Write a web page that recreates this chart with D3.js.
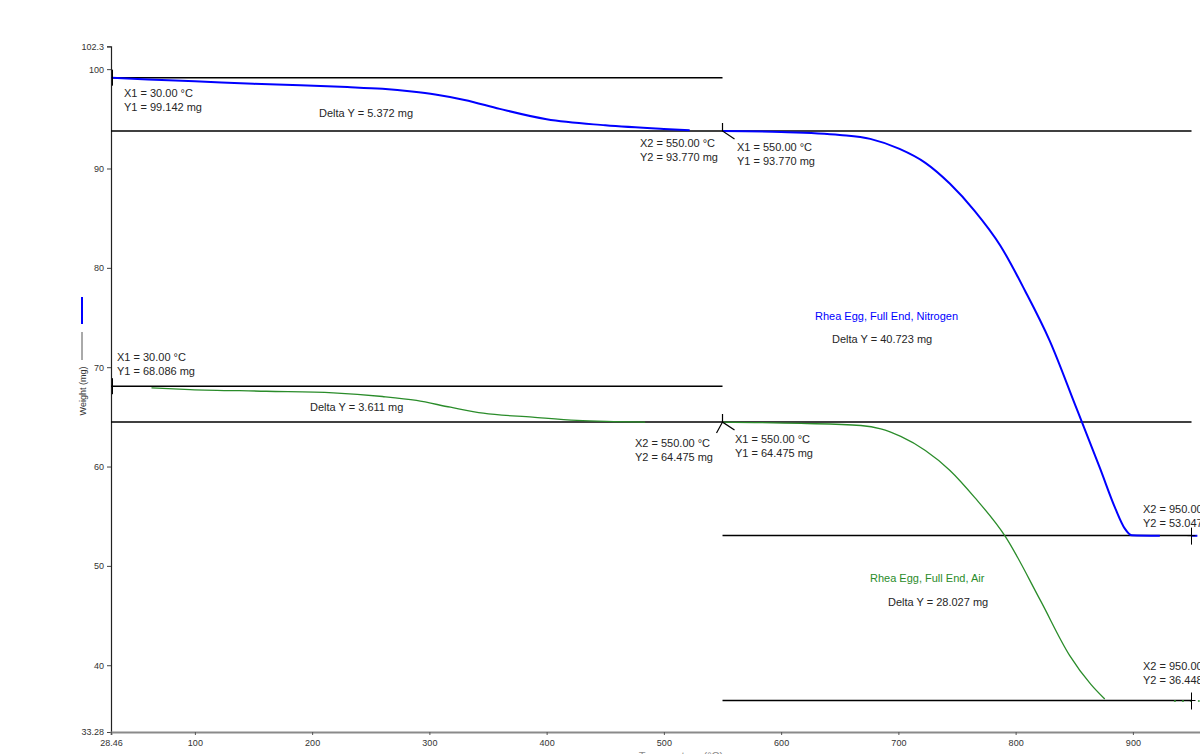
<!DOCTYPE html>
<html>
<head>
<meta charset="utf-8">
<script src="https://cdn.jsdelivr.net/npm/d3@7"></script>
<style>
  html, body { margin: 0; padding: 0; background: #fff; overflow: hidden; }
  svg { display: block; }
  text { font-family: Arial, "Liberation Sans", sans-serif; }
</style>
</head>
<body>
<svg id="chart" width="1200" height="754"></svg>
<script>
// Thermogravimetric curves: weight loss of rhea egg shell (full end) in nitrogen and in air

const xTicks = [28.46, 100, 200, 300, 400, 500, 600, 700, 800, 900];
const yTicks = [33.28, 40, 50, 60, 70, 80, 90, 100, 102.3];

// Nitrogen run
const n2TempA   = [29, 60, 100, 150, 190, 230, 260, 285, 305, 330, 360, 400, 450, 500, 522];
const n2WeightA = [99.14, 98.95, 98.78, 98.52, 98.38, 98.2, 98.02, 97.75, 97.45, 96.9, 96.0, 94.95, 94.35, 93.98, 93.85];
const n2TempB   = [550, 600, 650, 676, 701, 723, 744, 765, 787, 808, 829, 851, 872, 885, 893, 899, 923];
const n2WeightB = [93.77, 93.68, 93.38, 92.98, 91.97, 90.57, 88.46, 85.74, 82.23, 77.7, 72.68, 66.14, 59.81, 55.79, 53.78, 53.08, 53.03];
const n2TempC   = [950, 955];
const n2WeightC = [53.03, 53.03];

// Air run
const airTempA   = [63, 96, 161, 218, 260, 289, 318, 346, 388, 426, 451, 484];
const airWeightA = [67.92, 67.75, 67.58, 67.42, 67.05, 66.65, 65.97, 65.37, 64.97, 64.64, 64.54, 64.48];
const airTempB   = [550, 617, 668, 685, 702, 723, 744, 765, 791, 821, 846, 864, 876];
const airWeightB = [64.475, 64.34, 64.13, 63.8, 63.03, 61.62, 59.61, 56.9, 53.0, 46.55, 41.0, 38.1, 36.6];
const airTempC   = [935, 942, 950, 957];
const airWeightC = [36.40, 36.40, 36.40, 36.40];

// Step analysis results: [x1, y1, x2, y2, delta]
const n2StepLow  = [30, 99.142, 550, 93.770, 5.372];
const n2StepHigh = [550, 93.770, 950, 53.047, 40.723];
const airStepLow  = [30, 68.086, 550, 64.475, 3.611];
const airStepHigh = [550, 64.475, 950, 36.448, 28.027];

const seriesNames = ["Rhea Egg, Full End, Nitrogen", "Rhea Egg, Full End, Air"];
const axisTitles = ["Temperature (°C)", "Weight (mg)"];

const BLUE = "#0000ff", GREEN = "#2a8c2a", INK = "#262626";

const svg = d3.select("#chart");
const x = d3.scaleLinear().domain([28.46, 965]).range([111, 1209.1]);
const y = d3.scaleLinear().domain([33.28, 102.3]).range([732, 46.3]);

// Axes
const yAxis = d3.axisLeft(y).tickValues(yTicks).tickSize(4).tickPadding(3)
  .tickFormat(d => (d === 33.28 || d === 102.3) ? String(d) : d3.format("d")(d));
const gy = svg.append("g").attr("transform", "translate(111,0)").call(yAxis);
gy.select(".domain").attr("stroke", "#222").attr("stroke-width", 1.2);
gy.selectAll(".tick line").attr("stroke", "#444");
gy.selectAll("text").attr("font-size", 9).attr("fill", "#333");

const xAxis = d3.axisBottom(x).tickValues(xTicks).tickSize(3).tickPadding(5)
  .tickFormat(d => d === 28.46 ? "28.46" : d3.format("d")(d));
const gx = svg.append("g").attr("transform", "translate(0,732)").call(xAxis);
gx.select(".domain").attr("stroke", "#8a8a8a").attr("stroke-width", 2);
gx.selectAll(".tick line").attr("stroke", "#555");
gx.selectAll("text").attr("font-size", 9).attr("fill", "#333");

// Axis titles (the temperature title sits at the very bottom edge)
svg.append("text").attr("x", 681).attr("y", 760).attr("text-anchor", "middle")
  .attr("font-size", 11).attr("fill", "#8a8a8a").text(axisTitles[0]);
svg.append("text").attr("transform", "translate(86,391) rotate(-90)").attr("text-anchor", "middle")
  .attr("font-size", 9).attr("fill", "#333").text(axisTitles[1]);
// series key next to the y title
svg.append("line").attr("x1", 82).attr("x2", 82).attr("y1", 332).attr("y2", 360)
  .attr("stroke", "#555").attr("stroke-width", 1);
svg.append("line").attr("x1", 82).attr("x2", 82).attr("y1", 297).attr("y2", 324)
  .attr("stroke", BLUE).attr("stroke-width", 2);

// Step baselines
const baseline = (t1, t2, w) => svg.append("line")
  .attr("x1", x(t1)).attr("x2", x(t2)).attr("y1", y(w)).attr("y2", y(w))
  .attr("stroke", "#000").attr("stroke-width", 1.5);
[n2StepLow, airStepLow].forEach(s => { baseline(28.46, s[2], s[1]); baseline(28.46, s[2] + 400, s[3]); });
[n2StepHigh, airStepHigh].forEach(s => { baseline(s[0], s[2], s[3]); });

// Curves
const line = d3.line().x(d => x(d[0])).y(d => y(d[1])).curve(d3.curveMonotoneX);
const drawCurve = (ts, ws, color, width, dash) => svg.append("path")
  .datum(ts.map((t, i) => [t, ws[i]])).attr("d", line)
  .attr("fill", "none").attr("stroke", color).attr("stroke-width", width)
  .attr("stroke-dasharray", dash || null);
drawCurve(n2TempA, n2WeightA, BLUE, 2);
drawCurve(n2TempB, n2WeightB, BLUE, 2);
drawCurve(n2TempC, n2WeightC, BLUE, 2);
drawCurve(airTempA, airWeightA, GREEN, 1.3);
drawCurve(airTempB, airWeightB, GREEN, 1.3);
drawCurve(airTempC, airWeightC, GREEN, 1.3, "2,6");

// Cursor markers
const markStart = (t, w) => svg.append("line").attr("x1", x(t) + 1.5).attr("x2", x(t) + 1.5)
  .attr("y1", y(w) - 8).attr("y2", y(w) + 8).attr("stroke", "#000").attr("stroke-width", 1);
markStart(28.46, n2StepLow[1]);
markStart(28.46, airStepLow[1]);

const markMid = (t, w, bothLegs) => {
  const cx = x(t), cy = y(w);
  const p = d3.path();
  p.moveTo(cx, cy - 8); p.lineTo(cx, cy);
  p.lineTo(cx + 12, cy + 8);
  if (bothLegs) { p.moveTo(cx, cy); p.lineTo(cx - 6, cy + 11); }
  svg.append("path").attr("d", p.toString()).attr("fill", "none")
    .attr("stroke", "#000").attr("stroke-width", 1.2);
};
markMid(n2StepLow[2], n2StepLow[3], false);
markMid(airStepLow[2], airStepLow[3], true);

const markEnd = (t, w) => {
  const cx = x(t), cy = y(w);
  svg.append("line").attr("x1", cx).attr("x2", cx).attr("y1", cy - 8).attr("y2", cy + 9)
    .attr("stroke", "#000").attr("stroke-width", 1);
  svg.append("line").attr("x1", cx - 4).attr("x2", cx + 4).attr("y1", cy).attr("y2", cy)
    .attr("stroke", "#000").attr("stroke-width", 1);
};
markEnd(n2StepHigh[2], n2StepHigh[3]);
markEnd(airStepHigh[2], airStepHigh[3]);

// Annotation text
const label = (px, py, lines, color) => {
  const t = svg.append("text").attr("x", px).attr("y", py).attr("font-size", 11)
    .attr("fill", color || INK);
  lines.forEach((s, i) => t.append("tspan").attr("x", px).attr("dy", i ? 13.5 : 0).text(s));
};
const fx = v => v.toFixed(2) + " °C", fw = v => v.toFixed(3) + " mg";

label(124, 97, ["X1 = " + fx(n2StepLow[0]), "Y1 = " + fw(n2StepLow[1])]);
label(319, 117, ["Delta Y = " + fw(n2StepLow[4])]);
label(640, 147, ["X2 = " + fx(n2StepLow[2]), "Y2 = " + fw(n2StepLow[3])]);
label(737, 151, ["X1 = " + fx(n2StepHigh[0]), "Y1 = " + fw(n2StepHigh[1])]);
label(815, 320, [seriesNames[0]], BLUE);
label(832, 343, ["Delta Y = " + fw(n2StepHigh[4])]);
label(1143, 513, ["X2 = " + fx(n2StepHigh[2]), "Y2 = " + fw(n2StepHigh[3])]);

label(117, 361, ["X1 = " + fx(airStepLow[0]), "Y1 = " + fw(airStepLow[1])]);
label(310, 411, ["Delta Y = " + fw(airStepLow[4])]);
label(635, 447, ["X2 = " + fx(airStepLow[2]), "Y2 = " + fw(airStepLow[3])]);
label(735, 443, ["X1 = " + fx(airStepHigh[0]), "Y1 = " + fw(airStepHigh[1])]);
label(870, 582, [seriesNames[1]], GREEN);
label(888, 606, ["Delta Y = " + fw(airStepHigh[4])]);
label(1143, 670, ["X2 = " + fx(airStepHigh[2]), "Y2 = " + fw(airStepHigh[3])]);
</script>
</body>
</html>
